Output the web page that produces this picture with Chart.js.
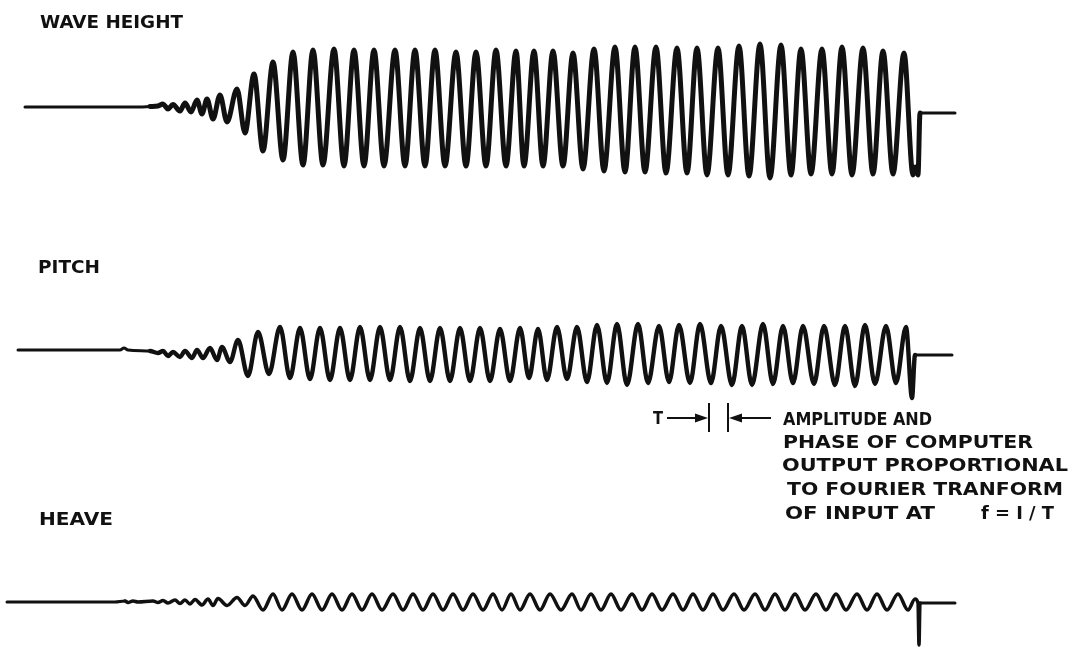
<!DOCTYPE html>
<html>
<head>
<meta charset="utf-8">
<script src="https://cdn.jsdelivr.net/npm/chart.js@4"></script>
<style>
  html, body { margin: 0; padding: 0; background: #fff; }
  #traceChart { display: block; }
</style>
</head>
<body>
<canvas id="traceChart" width="1072" height="647"></canvas>
<script>
// recorder traces: time (chart units) and deflection (up = positive)
const waveHeightTime = [25, 140, 150, 158, 163, 168, 173, 180, 185, 191, 197, 202, 207, 213, 220, 227, 237, 245, 254, 263,
    273, 283, 293, 303, 313, 323, 334, 344, 354, 364, 374, 384, 395, 405, 415, 425, 435, 445, 456, 466,
    476, 486, 496, 506, 516, 524, 534, 543, 553, 563, 573, 583, 594, 604, 615, 625, 635, 645, 656, 666,
    677, 687, 697, 707, 718, 728, 739, 749, 760, 770, 781, 791, 801, 811, 822, 832, 842, 852, 863, 873,
    883, 893, 904, 913, 915.5, 918, 920, 955];
const waveHeightValue = [0, 0, 0.5, 1, 3, -2, 2.5, -4, 4, -5, 7, -7, 8, -12, 12, -15, 18, -26, 33, -44,
    45, -53, 55, -58, 57, -58, 58, -59, 57, -59, 57, -59, 57, -59, 57, -59, 57, -59, 55, -59,
    55, -59, 57, -59, 56, -59, 56, -59, 56, -59, 54, -62, 58, -64, 60, -65, 60, -65, 60, -66,
    59, -66, 59, -68, 59, -68, 61, -69, 63, -71, 62, -68, 58, -67, 58, -67, 60, -68, 59, -67,
    56, -67, 54, -68, -60, -68, -6, -6];

const pitchTime = [18, 120, 124, 128, 150, 158, 163, 168, 173, 180, 185, 192, 197, 203, 210, 217, 222, 230, 238, 248,
    258, 269, 280, 290, 300, 310, 320, 330, 340, 350, 360, 370, 380, 390, 400, 410, 420, 430, 440, 450,
    460, 470, 480, 490, 500, 510, 520, 529, 538, 547, 557, 567, 577, 587, 597, 607, 617, 627, 638, 648,
    659, 669, 679, 690, 700, 711, 721, 732, 742, 752, 763, 773, 783, 793, 803, 814, 824, 835, 845, 855,
    865, 875, 886, 896, 906, 912, 915, 952];
const pitchValue = [0, 0, 2, 0, -1, -3, -1, -6, -2, -7, -1, -8, 0, -8, 2, -10, 3, -12, 10, -26,
    18, -24, 23, -28, 22, -29, 22, -30, 22, -30, 23, -30, 23, -30, 23, -31, 22, -31, 22, -31,
    22, -31, 22, -31, 21, -31, 22, -28, 21, -30, 23, -29, 23, -32, 25, -33, 26, -35, 26, -33,
    24, -32, 25, -33, 26, -33, 24, -35, 24, -35, 26, -34, 24, -33, 24, -34, 24, -35, 24, -36,
    25, -34, 24, -33, 23, -48, -5, -5];

const heaveTime = [7, 115, 125, 128, 133, 138, 153, 158, 163, 168, 175, 180, 185, 190, 195, 202, 208, 213, 218, 227,
    237, 245, 253, 263, 273, 282, 292, 302, 312, 322, 332, 342, 352, 362, 372, 382, 393, 403, 413, 423,
    433, 443, 453, 463, 473, 483, 493, 502, 511, 520, 530, 540, 550, 561, 572, 581, 591, 601, 611, 621,
    632, 642, 652, 662, 673, 683, 693, 703, 713, 723, 734, 744, 755, 765, 775, 785, 795, 805, 816, 826,
    836, 846, 857, 867, 877, 887, 898, 908, 915, 918, 919, 920, 955];
const heaveValue = [0, 0, 1, -0.5, 1, 0, 1, -0.5, 1.5, -1, 2, -1.5, 2, -2, 2.5, -3, 3, -3.5, 3.5, -3.5,
    4.5, -3.5, 6, -8, 8, -8, 8, -8, 8, -8, 8, -8, 8, -8, 8, -8, 8, -8, 8, -8,
    8, -8, 8, -8, 8, -8, 8, -8, 8, -8, 8, -8, 8, -8, 8, -8, 8, -8, 8, -8,
    8, -8, 8, -8, 8, -8, 8, -8, 8, -8, 8, -8, 8, -8, 8, -8, 8, -8, 8, -8,
    8, -8, 8, -8, 8, -8, 8, -8, 3, -1, -43, -1, -1];

const traceLabels = ['WAVE HEIGHT', 'PITCH', 'HEAVE'];
const noteLines = ['AMPLITUDE AND', 'PHASE OF COMPUTER', 'OUTPUT PROPORTIONAL', 'TO FOURIER TRANFORM', 'OF INPUT AT'];
const noteFormula = 'f = I / T';

function toPoints(times, values) {
    return times.map((t, i) => ({ x: t, y: values[i] }));
}

// thinner pen on the quiet lead-in and the flat tail
function quietWidth(leadEnd, tailStart) {
    return c => (c.p1.parsed.x <= leadEnd || c.p0.parsed.x >= tailStart) ? 3 : undefined;
}

// draw text squeezed/stretched to a given width
function fitText(ctx, text, x, y, width) {
    const w = ctx.measureText(text).width;
    ctx.save();
    ctx.translate(x, y);
    ctx.scale(width / w, 1);
    ctx.fillText(text, 0, 0);
    ctx.restore();
}

const paperPlugin = {
    id: 'paper',
    beforeDraw(chart) {
        const ctx = chart.ctx;
        ctx.save();
        ctx.fillStyle = '#ffffff';
        ctx.fillRect(0, 0, chart.width, chart.height);
        ctx.restore();
    },
    afterDraw(chart) {
        const ctx = chart.ctx;
        ctx.save();
        ctx.fillStyle = '#111';
        ctx.strokeStyle = '#111';
        ctx.font = 'bold 18px "DejaVu Sans"';
        ctx.textBaseline = 'alphabetic';

        // channel names
        fitText(ctx, traceLabels[0], 40, 28, 143);
        fitText(ctx, traceLabels[1], 38, 273, 62);
        fitText(ctx, traceLabels[2], 39, 525, 74);

        // note
        fitText(ctx, noteLines[0], 783, 425, 149);
        fitText(ctx, noteLines[1], 783, 448, 250);
        fitText(ctx, noteLines[2], 782, 471, 286);
        fitText(ctx, noteLines[3], 787, 495, 276);
        fitText(ctx, noteLines[4], 785, 519, 150);
        fitText(ctx, noteFormula, 981, 519, 73);

        // period marker  T ->| |<-
        fitText(ctx, 'T', 653, 424, 10);
        ctx.lineWidth = 2;
        ctx.beginPath();
        ctx.moveTo(667, 418); ctx.lineTo(700, 418);
        ctx.moveTo(709, 403); ctx.lineTo(709, 432);
        ctx.moveTo(728, 403); ctx.lineTo(728, 432);
        ctx.moveTo(738, 418); ctx.lineTo(771, 418);
        ctx.stroke();
        ctx.beginPath();
        ctx.moveTo(708, 418); ctx.lineTo(695, 413.5); ctx.lineTo(695, 422.5); ctx.closePath();
        ctx.moveTo(729, 418); ctx.lineTo(742, 413.5); ctx.lineTo(742, 422.5); ctx.closePath();
        ctx.fill();
        ctx.restore();
    }
};

const ctx = document.getElementById('traceChart').getContext('2d');
new Chart(ctx, {
    type: 'line',
    data: {
        datasets: [{
            label: traceLabels[0],
            data: toPoints(waveHeightTime, waveHeightValue),
            yAxisID: 'yWave',
            borderWidth: 5,
            segment: { borderWidth: quietWidth(150, 920) }
        }, {
            label: traceLabels[1],
            data: toPoints(pitchTime, pitchValue),
            yAxisID: 'yPitch',
            borderWidth: 4.4,
            segment: { borderWidth: quietWidth(150, 915) }
        }, {
            label: traceLabels[2],
            data: toPoints(heaveTime, heaveValue),
            yAxisID: 'yHeave',
            borderWidth: 3.5,
            segment: { borderWidth: quietWidth(125, 920) }
        }]
    },
    options: {
        responsive: false,
        animation: false,
        layout: { padding: 0 },
        elements: {
            line: {
                borderColor: '#111',
                cubicInterpolationMode: 'monotone',
                borderJoinStyle: 'round',
                borderCapStyle: 'round',
                fill: false
            },
            point: { radius: 0, hoverRadius: 0 }
        },
        plugins: {
            legend: { display: false },
            tooltip: { enabled: false }
        },
        scales: {
            x: { type: 'linear', min: 0, max: 1072, display: false },
            yWave: { type: 'linear', min: -540, max: 107, display: false },
            yPitch: { type: 'linear', min: -297, max: 350, display: false },
            yHeave: { type: 'linear', min: -45, max: 602, display: false }
        }
    },
    plugins: [paperPlugin]
});
</script>
</body>
</html>
